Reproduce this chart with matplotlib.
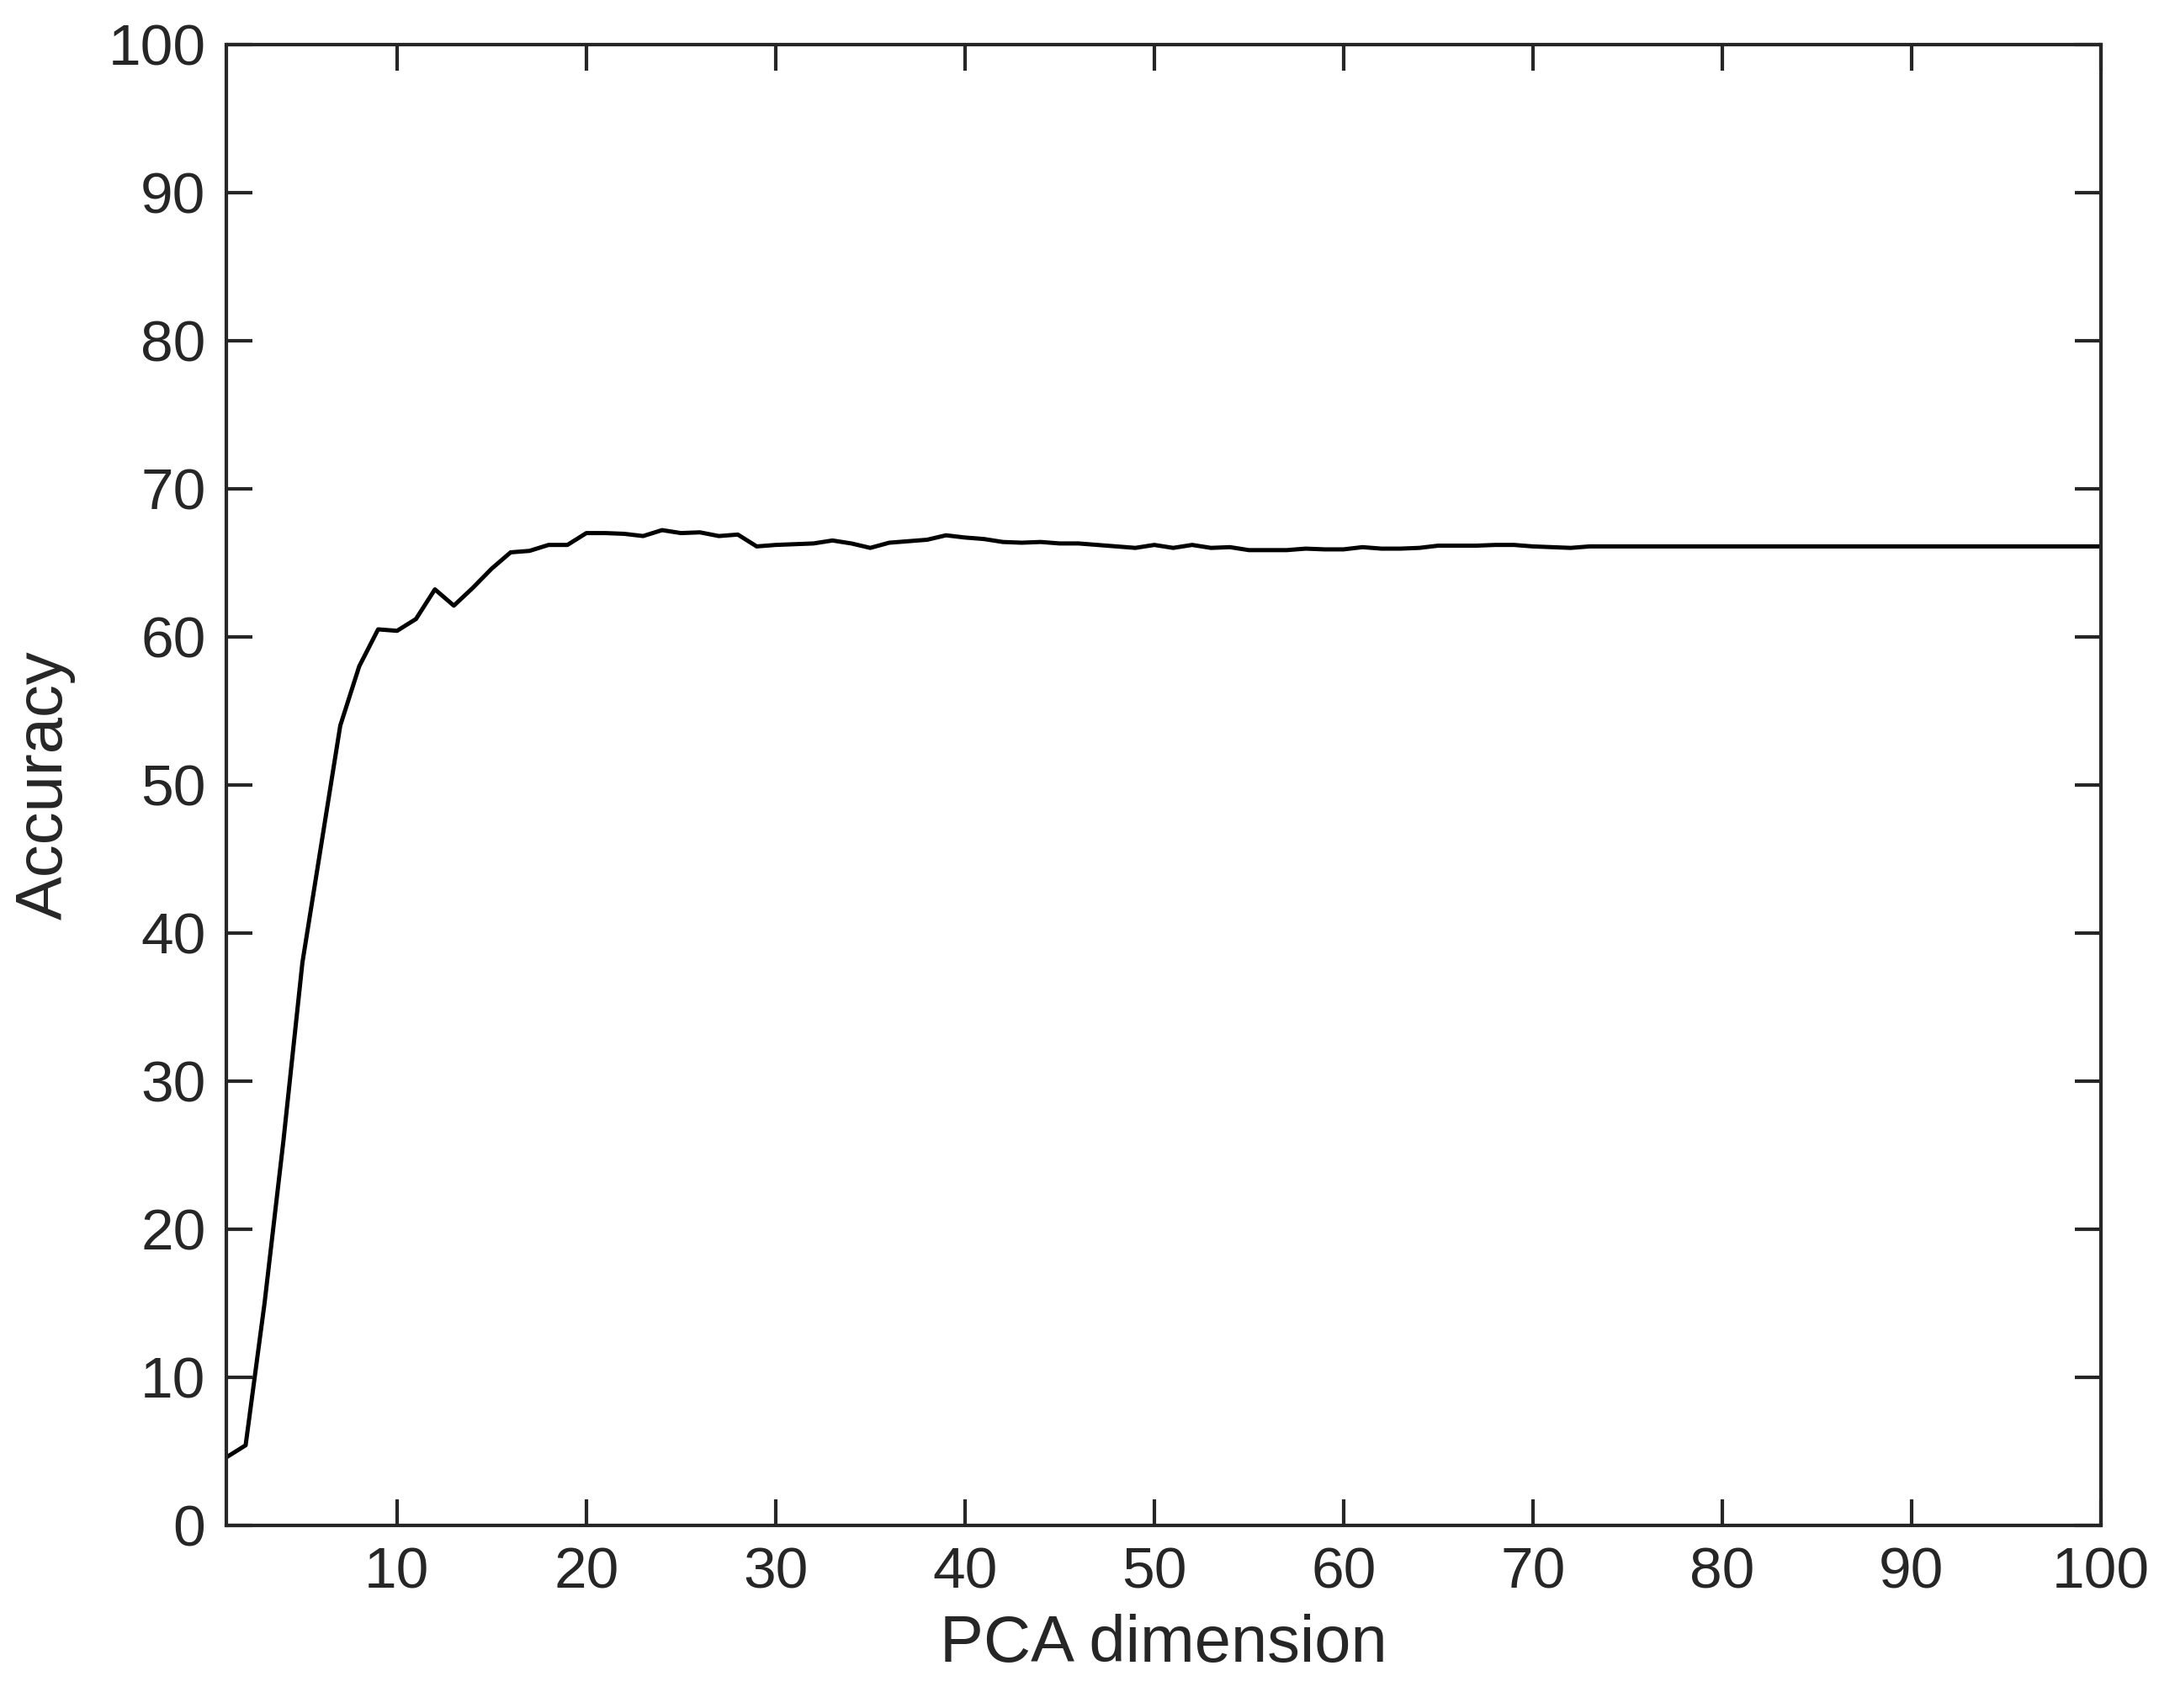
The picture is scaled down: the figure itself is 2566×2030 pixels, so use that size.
import matplotlib
matplotlib.use('Agg')
import matplotlib.pyplot as plt

plt.rcParams['font.family'] = ['Liberation Sans', 'DejaVu Sans']

# 数据
head = [4.6, 5.4, 15, 26, 38, 46, 54, 58, 60.5, 60.4,
        61.2, 63.2, 62.1, 63.3, 64.6, 65.7, 65.8, 66.2, 66.2, 67.0,
        67.0, 66.95, 66.8, 67.2, 67.0, 67.05, 66.8, 66.9, 66.1, 66.2,
        66.25, 66.3, 66.5, 66.3, 66.0, 66.35, 66.45, 66.55, 66.85, 66.7,
        66.6, 66.4, 66.35, 66.4, 66.3, 66.3, 66.2, 66.1, 66.0, 66.2,
        66.0, 66.2, 66.0, 66.05, 65.85, 65.85, 65.85, 65.95, 65.9, 65.9,
        66.05, 65.95, 65.95, 66.0, 66.15, 66.15, 66.15, 66.2, 66.2, 66.1,
        66.05, 66.0]
tail = [66.1] * (100 - len(head))
accuracy = head + tail
dims = list(range(1, 101))

fig = plt.figure(figsize=(12.83, 10.15), dpi=200)
ax = fig.add_axes([0.105, 0.107, 0.868, 0.867])
ax.plot(dims, accuracy, color='black', linewidth=1.8)

ax.set_xlim(1, 100)
ax.set_ylim(0, 100)
ax.set_xticks(range(10, 101, 10))
ax.set_yticks(range(0, 101, 10))
ax.tick_params(direction='in', length=11, width=1.5, labelsize=25,
               top=True, right=True, colors='#262626', pad=9)
for s in ax.spines.values():
    s.set_linewidth(1.5)
    s.set_color('#262626')
ax.set_xlabel('PCA dimension', fontsize=28, color='#262626', labelpad=6)
ax.set_ylabel('Accuracy', fontsize=28, color='#262626', labelpad=14)

plt.savefig('out.png', dpi=200)
